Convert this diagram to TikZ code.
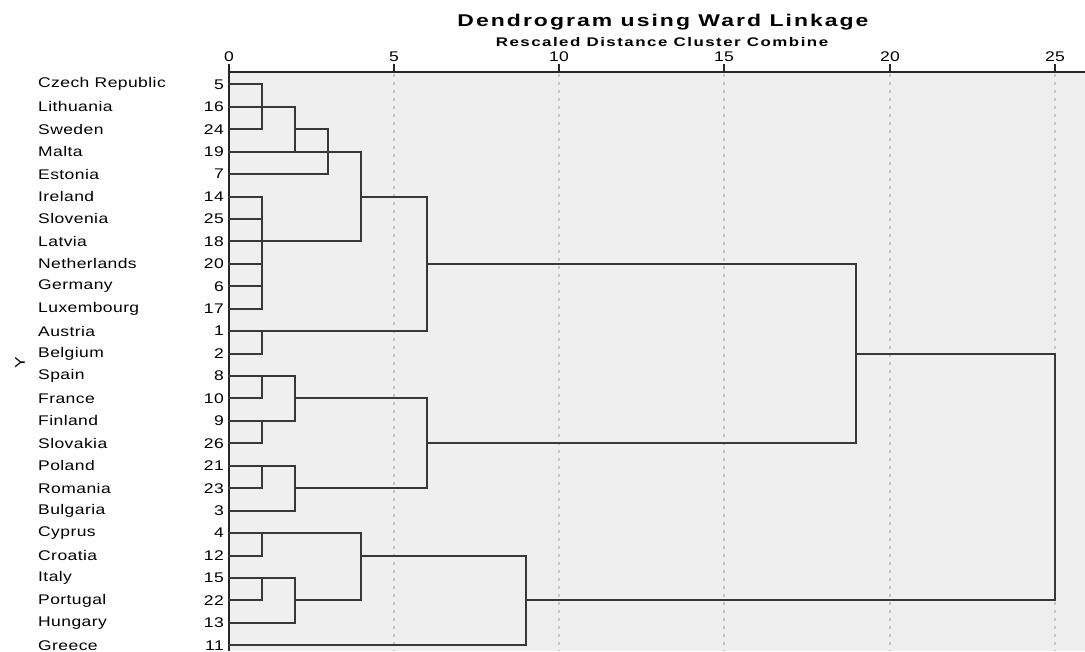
\documentclass[tikz,border=0pt]{standalone}
\usepackage{fontspec}
\setmainfont{Liberation Sans}
\newfontfamily\lblfont[FakeStretch=1.25,LetterSpace=3]{Liberation Sans}
\newfontfamily\ttlfont[FakeStretch=1.35,LetterSpace=12]{Liberation Sans}
\definecolor{plotbg}{HTML}{EFEFEF}
\definecolor{gridc}{HTML}{C4C4C4}
\definecolor{treec}{HTML}{383838}
\tikzset{
  tree/.style={draw=treec,line width=2pt,line cap=rect},
  axisline/.style={draw=black!85,line width=2pt},
  gridline/.style={draw=gridc,line width=1.3pt,dash pattern=on 3pt off 5pt},
  namelbl/.style={anchor=west,inner sep=0pt,font=\lblfont\fontsize{14}{16}\selectfont},
  numlbl/.style={anchor=east,inner sep=0pt,font=\lblfont\fontsize{14}{16}\selectfont},
  ticklbl/.style={anchor=center,inner sep=0pt,font=\lblfont\fontsize{14}{16}\selectfont},
  titlelbl/.style={anchor=center,inner sep=0pt,font=\ttlfont\bfseries\fontsize{17}{19}\selectfont},
  subtitlelbl/.style={anchor=center,inner sep=0pt,font=\ttlfont\bfseries\fontsize{12.5}{14}\selectfont}
}
\begin{document}
\begin{tikzpicture}[x=1pt,y=-1pt]
\useasboundingbox (0,0) rectangle (1085,651);
\fill[white] (0,0) rectangle (1085,651);
\fill[plotbg] (229,72) rectangle (1085,651);
% grid
\foreach \v in {5,10,15,20,25}
  \draw[gridline] ({round(228.5+33.05*\v)},74) -- ({round(228.5+33.05*\v)},651);
% titles
\node[titlelbl] (title) at (663,22) {Dendrogram using Ward Linkage};
\node[subtitlelbl] (subtitle) at (662,42) {Rescaled Distance Cluster Combine};
% axis
\draw[axisline] (229,72) -- (1085,72);
\draw[axisline] (229,64) -- (229,651);
\foreach \v in {0,5,10,15,20,25}{
  \draw[axisline] ({round(228.5+33.05*\v)},64) -- ({round(228.5+33.05*\v)},72);
  \node[ticklbl] (t\v) at ({round(228.5+33.05*\v)},57) {\v};
}
% y label
\node[rotate=90,inner sep=0pt,font=\lblfont\fontsize{14}{16}\selectfont] (ylab) at (20,363) {Y};
% leaf labels
\foreach \r/\nm/\k in {0/Czech Republic/5,1/Lithuania/16,2/Sweden/24,3/Malta/19,4/Estonia/7,
  5/Ireland/14,6/Slovenia/25,7/Latvia/18,8/Netherlands/20,9/Germany/6,10/Luxembourg/17,
  11/Austria/1,12/Belgium/2,13/Spain/8,14/France/10,15/Finland/9,16/Slovakia/26,
  17/Poland/21,18/Romania/23,19/Bulgaria/3,20/Cyprus/4,21/Croatia/12,22/Italy/15,
  23/Portugal/22,24/Hungary/13,25/Greece/11}{
  \node[namelbl] (n\r) at (38,{84.3+22.44*\r}) {\nm};
  \node[numlbl] (k\r) at (224,{84.3+22.44*\r}) {\k};
}
% junction coordinates
\foreach \r in {0,...,25}
  \foreach \l in {0,1,2,3,4,6,9,19,25}
    \coordinate (p\r-\l) at ({round(228.5+33.05*\l)},{round(84.3+22.44*\r)});
% horizontal links
\foreach \r/\a/\b in {0/0/1,1/0/2,2/0/1,2/2/3,3/0/4,4/0/3,5/0/1,5/4/6,6/0/1,7/0/4,
  8/0/1,8/6/19,9/0/1,10/0/1,11/0/6,12/0/1,12/19/25,13/0/2,14/0/1,14/2/6,15/0/2,
  16/0/1,16/6/19,17/0/2,18/0/1,18/2/6,19/0/2,20/0/4,21/0/1,21/4/9,22/0/2,23/0/1,
  23/2/4,23/9/25,24/0/2,25/0/9}
  \draw[tree] (p\r-\a) -- (p\r-\b);
% vertical links
\foreach \l/\a/\b in {1/0/2,1/5/10,1/11/12,1/13/14,1/15/16,1/17/18,1/20/21,1/22/23,
  2/1/3,2/13/15,2/17/19,2/22/24,3/2/4,4/3/7,4/20/23,6/5/11,6/14/18,9/21/25,19/8/16,25/12/23}
  \draw[tree] (p\a-\l) -- (p\b-\l);
\end{tikzpicture}
\end{document}
